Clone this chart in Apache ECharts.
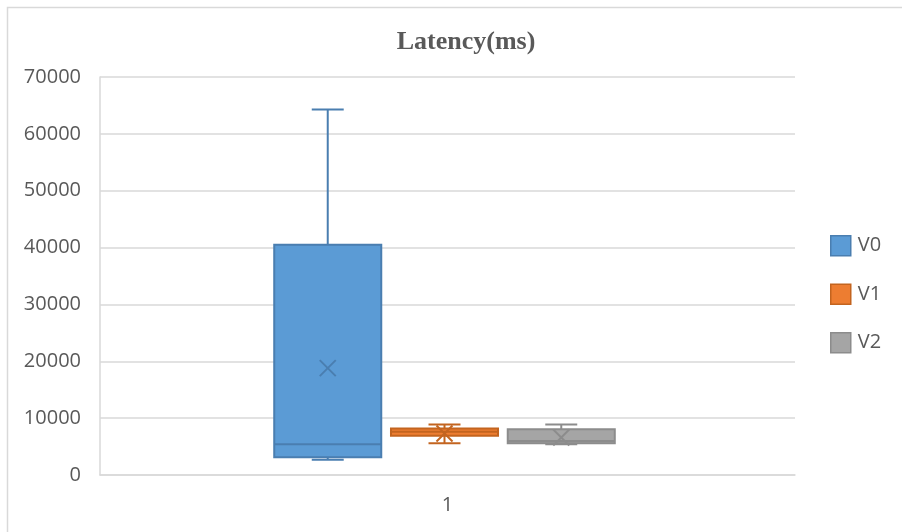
<!DOCTYPE html>
<html>
<head>
<meta charset="utf-8">
<script src="https://cdn.jsdelivr.net/npm/echarts@6/dist/echarts.min.js"></script>
<style>
  html, body { margin: 0; padding: 0; background: #fff; }
  #chart { width: 902px; height: 532px; }
</style>
</head>
<body>
<div id="chart"></div>
<script>
// Latency distribution per version: [min, Q1, median, Q3, max] plus mean
const categories = ['1'];
const seriesNames = ['V0', 'V1', 'V2'];
const v0Stats = [2700, 3100, 5400, 40500, 64300];
const v1Stats = [5600, 6900, 7600, 8200, 8900];
const v2Stats = [5400, 5600, 6000, 8050, 8900];
const means = [18800, 7300, 6600];
const yTicks = { min: 0, max: 70000, interval: 10000 };

const fills = ['#5B9BD5', '#ED7D31', '#A5A5A5'];
const strokes = ['#4A7EB0', '#C3641F', '#8C8C8C'];

// box geometry as fractions of the category band
const BOX_FRAC = 0.154;
const STEP_FRAC = 0.168;
const CAP_FRAC = 0.046;
const MEAN_HALF = 8;

function boxRenderer(idx) {
  return function (params, api) {
    const cat = api.value(0);
    const band = api.size([1, 0])[0];
    const base = api.coord([cat, 0]);
    const cx = base[0] + (idx - 1) * band * STEP_FRAC - 3;
    const hw = band * BOX_FRAC / 2;
    const cw = band * CAP_FRAC / 2;
    const py = k => api.coord([cat, api.value(k)])[1];
    const yMin = py(1), yQ1 = py(2), yMed = py(3), yQ3 = py(4), yMax = py(5), yMean = py(6);
    const line = { stroke: strokes[idx], lineWidth: 2 };
    return {
      type: 'group',
      children: [
        { type: 'line', shape: { x1: cx, y1: yMax, x2: cx, y2: yQ3 }, style: line },
        { type: 'line', shape: { x1: cx, y1: yQ1, x2: cx, y2: yMin }, style: line },
        { type: 'line', shape: { x1: cx - cw, y1: yMax, x2: cx + cw, y2: yMax }, style: line },
        { type: 'line', shape: { x1: cx - cw, y1: yMin, x2: cx + cw, y2: yMin }, style: line },
        { type: 'rect', shape: { x: cx - hw, y: yQ3, width: hw * 2, height: yQ1 - yQ3 },
          style: { fill: fills[idx], stroke: strokes[idx], lineWidth: 2 } },
        { type: 'line', shape: { x1: cx - hw, y1: yMed, x2: cx + hw, y2: yMed }, style: line },
        { type: 'line', shape: { x1: cx - MEAN_HALF, y1: yMean - MEAN_HALF, x2: cx + MEAN_HALF, y2: yMean + MEAN_HALF }, style: line },
        { type: 'line', shape: { x1: cx - MEAN_HALF, y1: yMean + MEAN_HALF, x2: cx + MEAN_HALF, y2: yMean - MEAN_HALF }, style: line }
      ]
    };
  };
}

const allStats = [v0Stats, v1Stats, v2Stats];
const series = seriesNames.map((name, i) => ({
  name: name,
  type: 'custom',
  renderItem: boxRenderer(i),
  itemStyle: { color: fills[i], borderColor: strokes[i] },
  encode: { x: 0, y: [1, 2, 3, 4, 5, 6] },
  data: [[0].concat(allStats[i], [means[i]])]
}));

const chart = echarts.init(document.getElementById('chart'), null, { renderer: 'canvas' });
chart.setOption({
  animation: false,
  backgroundColor: '#fff',
  title: {
    text: 'Latency(ms)',
    left: 461, top: 24, textAlign: 'center',
    textStyle: { fontFamily: 'Liberation Serif', fontWeight: 'bold', fontSize: 26, color: '#595959' }
  },
  graphic: [{
    type: 'rect', silent: true, z: -1,
    shape: { x: 7.5, y: 7.5, width: 910, height: 540 },
    style: { fill: 'none', stroke: '#D9D9D9', lineWidth: 1.5 }
  }],
  legend: {
    orient: 'vertical', left: 825, top: 230,
    itemWidth: 20, itemHeight: 20, itemGap: 27,
    textStyle: { fontFamily: 'Open Sans', fontSize: 20, color: '#595959', padding: [0, 0, 0, 2] },
    data: seriesNames.map((n, i) => ({
      name: n, icon: 'rect',
      itemStyle: { color: fills[i], borderColor: strokes[i], borderWidth: 1.5 }
    }))
  },
  grid: { left: 100, right: 107, top: 77, bottom: 57 },
  xAxis: {
    type: 'category', data: categories,
    axisLine: { show: true, lineStyle: { color: '#D9D9D9', width: 1.5 } },
    axisTick: { show: false },
    axisLabel: { fontFamily: 'Open Sans', fontSize: 20, color: '#595959', margin: 20 }
  },
  yAxis: {
    type: 'value', min: yTicks.min, max: yTicks.max, interval: yTicks.interval,
    axisLine: { show: true, lineStyle: { color: '#D9D9D9', width: 1.5 } },
    axisTick: { show: false },
    splitLine: { lineStyle: { color: '#D9D9D9', width: 1.5 } },
    axisLabel: { fontFamily: 'Open Sans', fontSize: 20, color: '#595959', margin: 19,
      formatter: v => String(v) }
  },
  series: series
});
</script>
</body>
</html>
